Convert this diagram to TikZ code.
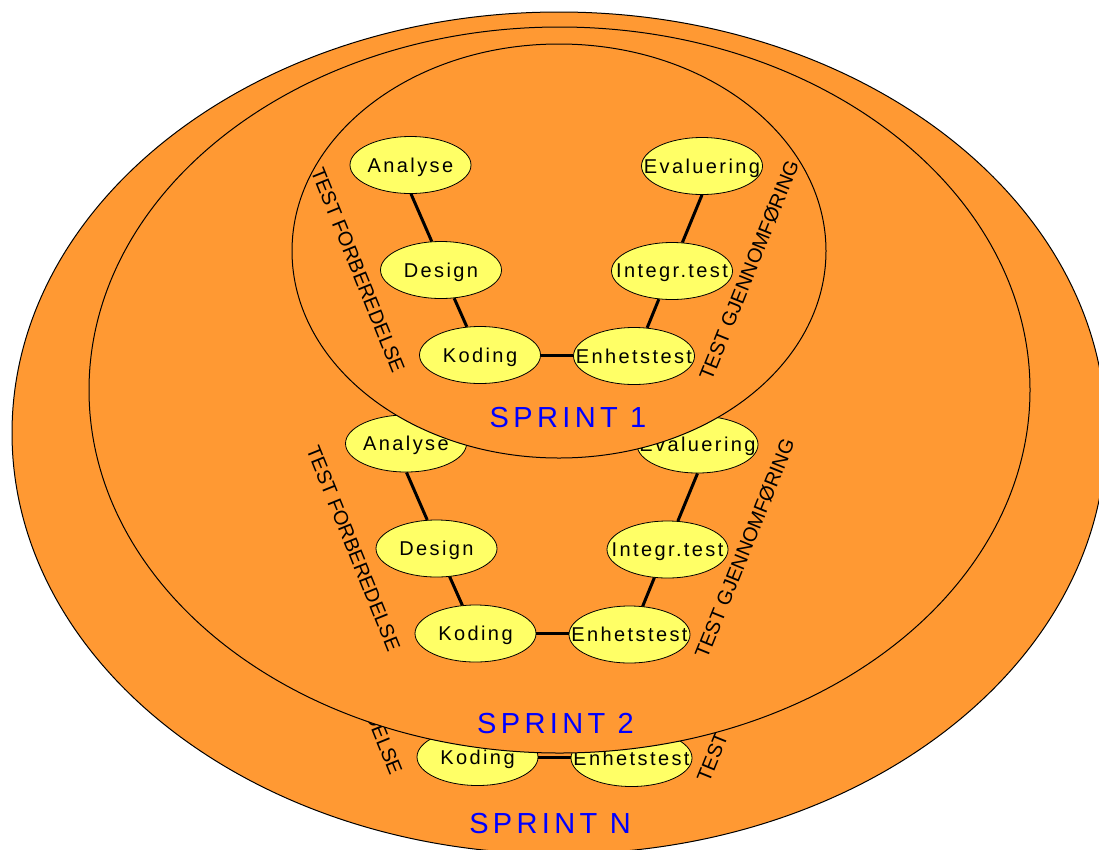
\documentclass[tikz,border=0pt]{standalone}
\usepackage{fontspec}
\usetikzlibrary{shapes.geometric}
\setmainfont{Liberation Sans}
\newfontfamily\stepfont[LetterSpace=12]{Liberation Sans}
\newfontfamily\sprintfont[LetterSpace=15]{Liberation Sans}
\definecolor{sprintorange}{RGB}{255,153,51}
\definecolor{stepyellow}{RGB}{255,255,102}
\definecolor{sprintblue}{RGB}{0,0,255}

\tikzset{
  sprintarea/.style={draw=black, line width=1pt, fill=sprintorange},
  stepnode/.style={ellipse, draw=black, line width=0.8pt, fill=stepyellow,
    minimum width=121pt, minimum height=57pt, inner sep=0pt, text depth=0pt,
    font=\stepfont\fontsize{20}{24}\selectfont},
  link/.style={line width=3pt},
  phase/.style={inner sep=0pt, text depth=0pt, font=\fontsize{20}{24}\selectfont},
  sprintlabel/.style={inner sep=0pt, text depth=0pt, text=sprintblue,
    font=\sprintfont\fontsize{29}{32}\selectfont},
}

% One V-model of a sprint: #1 name suffix, #2/#3 offset
\newcommand\sprintsteps[3]{%
  \begin{scope}[shift={(#2,#3)}]
    \node[phase, rotate=-68] (prep#1) at (358,270) {TEST FORBEREDELSE};
    \node[phase, rotate=68] (exec#1) at (749,270) {TEST GJENNOMFØRING};
    \node[stepnode] (ana#1) at (410.5,165) {\makebox[0pt]{Analyse}};
    \node[stepnode] (des#1) at (441,270) {\makebox[0pt]{Design}};
    \node[stepnode] (kod#1) at (480,355) {\makebox[0pt]{Koding}};
    \node[stepnode] (enh#1) at (634,356) {\makebox[0pt]{Enhetstest}};
    \node[stepnode] (int#1) at (672,271) {\makebox[0pt]{Integr.test}};
    \node[stepnode] (eva#1) at (702,166) {\makebox[0pt]{Evaluering}};
    \draw[link] (ana#1.-89) -- (des#1.108);
    \draw[link] (des#1.-65) -- (kod#1.115);
    \draw[link] (kod#1.east) -- (kod#1.east -| enh#1.west);
    \draw[link] (eva#1.-90) -- (int#1.70);
    \draw[link] (int#1.-115) -- (enh#1.65);
  \end{scope}}

\begin{document}
\begin{tikzpicture}[x=1pt, y=-1pt]
  \clip (0,0) rectangle (1099,849);

  % Sprint N
  \draw[sprintarea] (559,433) ellipse [x radius=547pt, y radius=421pt];
  \node[sprintlabel] (labN) at (550,823) {SPRINT N};
  \begin{scope}[shift={(-2.5,402)}]
    \node[phase, rotate=-68] (prepN) at (358,270) {TEST FORBEREDELSE};
    \node[phase, rotate=68] (execN) at (749,270) {TEST GJENNOMFØRING};
    \node[stepnode] (kodN) at (480,355) {\makebox[0pt]{Koding}};
    \node[stepnode] (enhN) at (634,356) {\makebox[0pt]{Enhetstest}};
    \draw[link] (kodN.east) -- (kodN.east -| enhN.west);
  \end{scope}

  % Sprint 2
  \draw[sprintarea] (559.5,390) ellipse [x radius=470.5pt, y radius=363pt];
  \node[sprintlabel] (lab2) at (555.5,723) {SPRINT 2};
  \sprintsteps{2}{-4.5}{278.5}

  % Sprint 1
  \draw[sprintarea] (559,251) ellipse [x radius=267pt, y radius=207pt];
  \node[sprintlabel] (lab1) at (568,417.5) {SPRINT 1};
  \sprintsteps{1}{0}{0}
\end{tikzpicture}
\end{document}
